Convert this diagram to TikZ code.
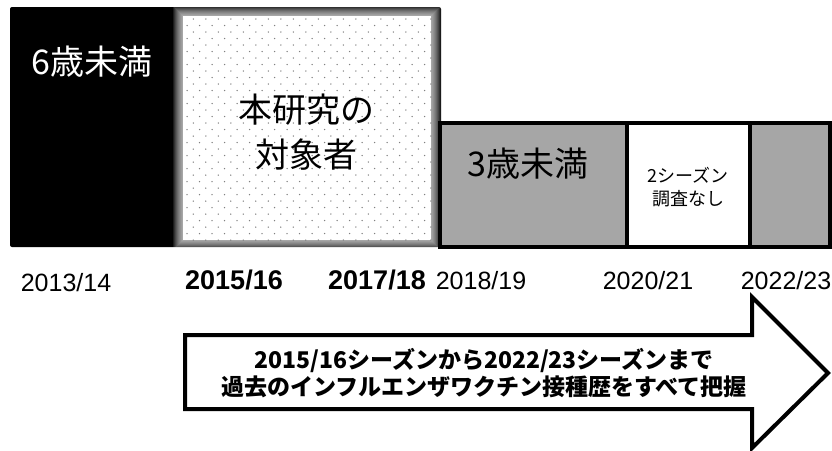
\documentclass[tikz,border=0pt]{standalone}
\usepackage{fontspec}
\setmainfont{Liberation Sans}
\newfontfamily\jp{Noto Sans CJK JP}
\tikzset{
  cell/.style={line width=4pt, draw=black},
  bigjp/.style={font=\jp\fontsize{34}{45}\selectfont, align=center, inner sep=0pt},
  smalljp/.style={font=\jp\fontsize{18}{23}\selectfont, align=center, inner sep=0pt},
  yr/.style={font=\fontsize{25}{28}\selectfont, inner sep=0pt},
  yrb/.style={font=\bfseries\fontsize{27}{30}\selectfont, inner sep=0pt},
  arrowtxt/.style={font=\jp\bfseries\fontsize{23}{27.5}\selectfont, align=center, inner sep=0pt}
}
\begin{document}
\begin{tikzpicture}[x=1pt,y=-1pt]
\useasboundingbox (0,0) rectangle (832,450);
% black block
\fill[black, rounded corners=2pt] (10,7) rectangle (441,247);
% glow of study box
\foreach \d in {1,...,10}
  \fill[white, opacity=0.1] (183-\d,16-\d) rectangle (431+\d,240+\d);
\fill[white] (183,16) rectangle (431,240);
% dots (staggered)
\foreach \y [count=\i] in {19,25.5,...,240}{
  \pgfmathsetmacro{\off}{mod(\i,2)*6.25}
  \foreach \x in {187,199.5,...,428}
    \fill[gray] (\x+\off,\y) circle (0.75pt);
}
% grey timeline
\fill[gray!70] (440,123) rectangle (830,247);
\fill[white] (627,123) rectangle (750,247);
\draw[cell] (440,123) rectangle (830,247);
\draw[line width=4pt] (627,123) -- (627,247);
\draw[line width=4pt] (750,123) -- (750,247);
% texts
\node[bigjp, text=white] (u6) at (92,62) {6歳未満};
\node[bigjp] (study) at (306,132) {本研究の\\対象者};
\node[bigjp] (u3) at (528,164) {3歳未満};
\node[smalljp] (none) at (688,187) {2シーズン\\調査なし};
% years
\node[yr] (y13) at (66,283) {2013/14};
\node[yrb] (y15) at (234,280) {2015/16};
\node[yrb] (y17) at (377,280) {2017/18};
\node[yr] (y18) at (481,281) {2018/19};
\node[yr] (y20) at (648,281) {2020/21};
\node[yr] (y22) at (786,281) {2022/23};
% arrow
\draw[line width=4pt, line join=miter, fill=white]
  (185,335) -- (752,335) -- (752,297) -- (828,373) -- (752,448) -- (752,409) -- (185,409) -- cycle;
\node[arrowtxt] (atext) at (484,373) {2015/16シーズンから2022/23シーズンまで\\過去のインフルエンザワクチン接種歴をすべて把握};
\end{tikzpicture}
\end{document}
